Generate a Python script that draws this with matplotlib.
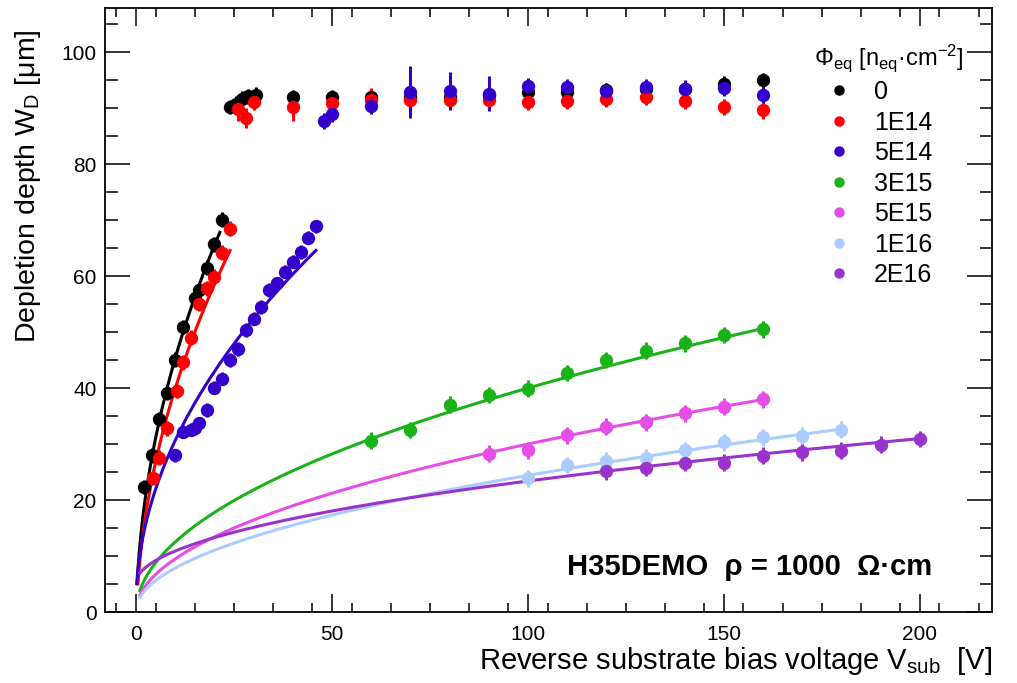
import matplotlib.pyplot as plt
from matplotlib.lines import Line2D
import numpy as np

plt.rcParams['font.family'] = ['Liberation Sans', 'DejaVu Sans']
plt.rcParams['mathtext.fontset'] = 'custom'
plt.rcParams['mathtext.rm'] = 'Liberation Sans'
plt.rcParams['mathtext.it'] = 'Liberation Sans:italic'
plt.rcParams['mathtext.bf'] = 'Liberation Sans:bold'

# fluence labels and colours
labels = ['0', '1E14', '5E14', '3E15', '5E15', '1E16', '2E16']
colors = ['#000000', '#ff0000', '#3300cc', '#19b219', '#e64ce6', '#aaccff', '#9933cc']

# fluence 0
v0 = [2, 4, 6, 8, 10, 12, 15, 16, 18, 20, 22, 24, 25.5, 27, 28.5, 30.5,
      40, 50, 60, 70, 80, 90, 100, 110, 120, 130, 140, 150, 160]
w0 = [22.3, 28.0, 34.5, 39.2, 45.1, 50.9, 56.1, 57.5, 61.5, 65.7, 70.1,
      90.2, 90.8, 91.7, 92.1, 92.4, 92.0, 92.0, 92.0, 92.0, 92.0, 92.3,
      92.9, 92.9, 93.2, 93.5, 93.5, 94.4, 95.0]
e0 = [1.3]*29

# 1E14
v1 = [4.4, 6, 8, 10.5, 12, 14, 16, 18, 20, 22, 24, 26, 28, 30,
      40, 50, 60, 70, 80, 90, 100, 110, 120, 130, 140, 150, 160]
w1 = [24.0, 27.6, 32.8, 39.5, 44.6, 49.0, 55.0, 57.8, 59.9, 64.2, 68.5,
      89.8, 88.3, 91.1, 90.2, 90.9, 91.4, 91.5, 91.5, 91.4, 91.1, 91.3,
      91.7, 92.0, 91.3, 90.2, 89.6]
e1 = [1.3]*11 + [2.0, 1.8, 1.5, 2.5, 2.2, 2.2] + [1.5]*10

# 5E14
v2 = [10, 12, 14, 15, 16, 18, 20, 22, 24, 26, 28, 30, 32, 34, 36, 38, 40,
      42, 44, 46, 48, 50, 60, 70, 80, 90, 100, 110, 120, 130, 140, 150, 160]
w2 = [28.0, 32.2, 32.6, 32.9, 33.7, 36.1, 40.1, 41.7, 45.0, 47.0, 50.4,
      52.4, 54.5, 57.5, 58.7, 60.8, 62.6, 64.3, 66.9, 68.9, 87.7, 89.0,
      90.4, 92.9, 93.0, 92.6, 93.9, 93.8, 93.0, 93.8, 93.5, 93.6, 92.4]
e2 = [1.2]*20 + [1.5, 1.5, 1.5, 4.7, 3.4, 3.1] + [1.5]*7

# 3E15
v3 = [60, 70, 80, 90, 100, 110, 120, 130, 140, 150, 160]
w3 = [30.6, 32.5, 37.0, 38.75, 39.9, 42.7, 45.0, 46.7, 48.0, 49.5, 50.5]

# 5E15
v4 = [90, 100, 110, 120, 130, 140, 150, 160]
w4 = [28.3, 28.9, 31.6, 33.1, 33.9, 35.5, 36.7, 38.0]

# 1E16
v5 = [100, 110, 120, 130, 140, 150, 160, 170, 180]
w5 = [23.9, 26.25, 27.0, 27.6, 28.9, 30.3, 31.2, 31.5, 32.6]

# 2E16
v6 = [120, 130, 140, 150, 160, 170, 180, 190, 200]
w6 = [25.1, 25.8, 26.6, 26.7, 27.9, 28.5, 28.8, 29.9, 30.9]

volts = [v0, v1, v2, v3, v4, v5, v6]
depths = [w0, w1, w2, w3, w4, w5, w6]
errs = [e0, e1, e2, [1.5]*len(v3), [1.5]*len(v4), [1.5]*len(v5), [1.5]*len(v6)]

# fit W = a + b*sqrt(V)
fit_a = [-3.4, -5.0, 0.9, -0.2, 0.0, 0.2, 5.1]
fit_b = [15.4, 14.2, 9.4, 4.02, 3.0, 2.42, 1.83]
fit_vmin = [0.3, 0.5, 0.2, 1, 1, 1, 1]
fit_vmax = [21.4, 24.0, 45.9, 160, 160, 180, 200]

fig = plt.figure(figsize=(10.17, 6.83), dpi=100)
ax = fig.add_axes([105/1017, 71/683, 887/1017, 604/683])

for i in range(7):
    vv = np.linspace(fit_vmin[i], fit_vmax[i], 300)
    ax.plot(vv, fit_a[i] + fit_b[i]*np.sqrt(vv), color=colors[i], lw=2.2, zorder=2)

for i in range(7):
    ax.errorbar(volts[i], depths[i], yerr=errs[i], fmt='o', color=colors[i],
                ms=8.6, elinewidth=2.2, capsize=0, zorder=3)

ax.set_xlim(-7.9, 218.4)
ax.set_ylim(0, 107.9)
ax.set_xticks([0, 50, 100, 150, 200])
ax.set_xticks(np.arange(-5, 218, 10), minor=True)
ax.set_yticks([0, 20, 40, 60, 80, 100])
ax.set_yticks(np.arange(0, 108, 5), minor=True)
ax.tick_params(axis='both', which='both', direction='in', top=True, right=True,
               width=1.1, labelsize=15)
ax.tick_params(axis='x', which='major', length=13, pad=9)
ax.tick_params(axis='x', which='minor', length=6.5)
ax.tick_params(axis='y', which='major', length=18, pad=6)
ax.tick_params(axis='y', which='minor', length=9)
for s in ax.spines.values():
    s.set_linewidth(1.3)

ax.set_xlabel(r'Reverse substrate bias voltage V$_{\mathregular{sub}}$  [V]',
              fontsize=21, ha='right')
ax.xaxis.set_label_coords(1.0, -0.055)
ax.set_ylabel(r'Depletion depth W$_{\mathregular{D}}$ [$\mathregular{\mu}$m]',
              fontsize=20.5, ha='right')
ax.yaxis.set_label_coords(-0.07, 0.965)

ax.text(0.521, 0.061, 'H35DEMO  ρ = 1000  Ω·cm', transform=ax.transAxes,
        fontsize=21, fontweight='bold', va='baseline', ha='left')

handles = [Line2D([], [], marker='o', ls='none', color=c, ms=6.5) for c in colors]
leg = fig.legend(handles, labels, loc='upper left',
                 bbox_to_anchor=(814/1017, 1 - 42/683), frameon=False,
                 fontsize=18, title=r'$\Phi_{\mathregular{eq}}$ [n$_{\mathregular{eq}}$·cm$^{-2}$]',
                 title_fontsize=17, alignment='left', borderpad=0, borderaxespad=0,
                 labelspacing=0.26, handlelength=2.0, handletextpad=0.4)

fig.savefig('out.png', dpi=100)
